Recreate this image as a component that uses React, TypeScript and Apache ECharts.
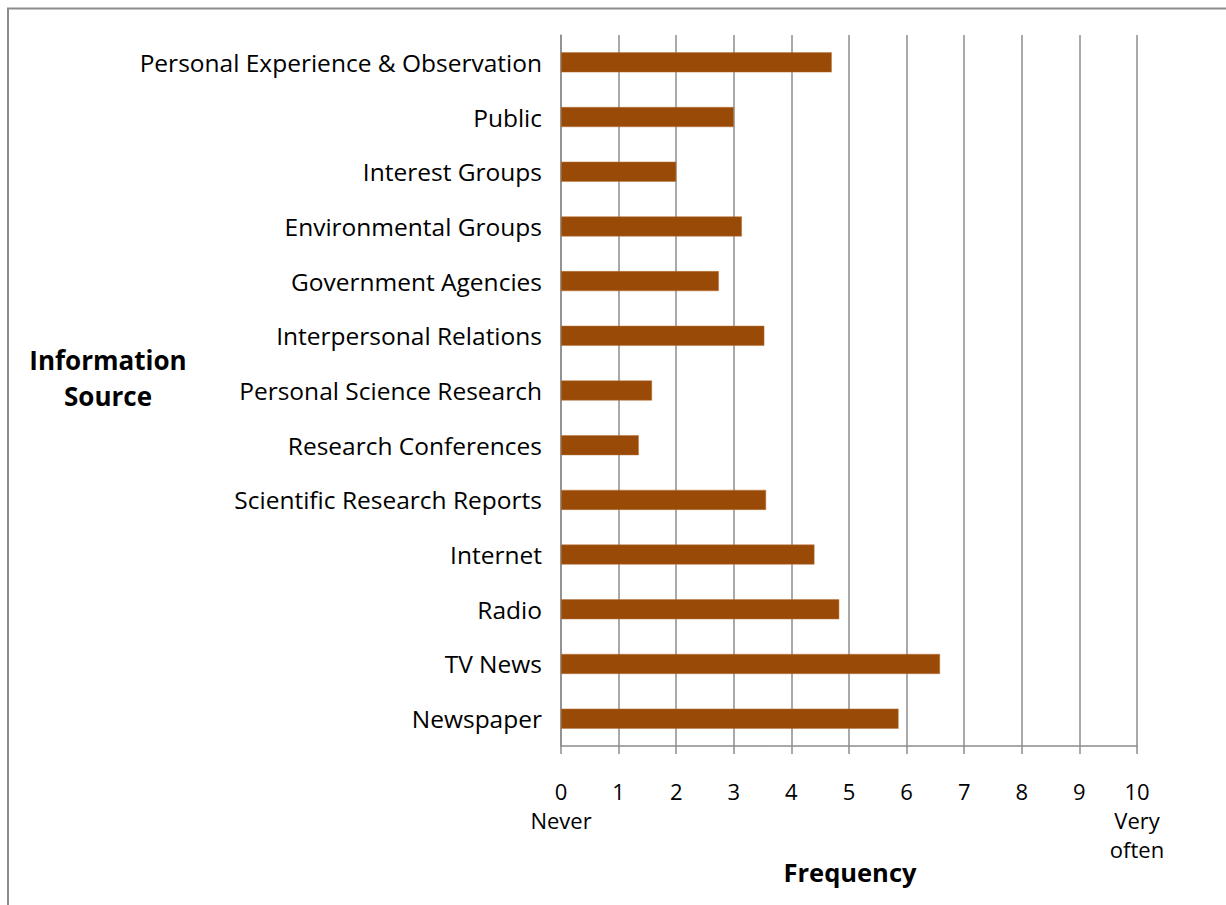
import React, { useEffect, useRef } from "react";
import * as echarts from "echarts";

const categories = [
  "Personal Experience & Observation",
  "Public",
  "Interest Groups",
  "Environmental Groups",
  "Government Agencies",
  "Interpersonal Relations",
  "Personal Science Research",
  "Research Conferences",
  "Scientific Research Reports",
  "Internet",
  "Radio",
  "TV News",
  "Newspaper",
];

const frequency = [4.7, 3.0, 2.0, 3.14, 2.74, 3.53, 1.58, 1.35, 3.56, 4.4, 4.83, 6.58, 5.86];

const tickLabels: Record<number, string> = {
  0: "0\nNever",
  10: "10\nVery\noften",
};

const FONT = "'Open Sans', 'Noto Sans', sans-serif";
const GRAY = "#8c8c8c";

export default function App() {
  const ref = useRef<HTMLDivElement>(null);

  useEffect(() => {
    if (!ref.current) return;
    const chart = echarts.init(ref.current, undefined, { renderer: "svg" });
    chart.setOption({
      animation: false,
      backgroundColor: "#ffffff",
      grid: { left: 561, right: 89, top: 35, bottom: 159 },
      xAxis: {
        type: "value",
        min: 0,
        max: 10,
        interval: 1,
        axisLine: { show: true, lineStyle: { color: GRAY, width: 1.5 } },
        axisTick: { show: true, length: 8, lineStyle: { color: GRAY, width: 1.5 } },
        splitLine: { show: true, lineStyle: { color: GRAY, width: 1.5 } },
        axisLabel: {
          margin: 30,
          color: "#000",
          fontFamily: FONT,
          fontSize: 22,
          lineHeight: 29,
          formatter: (v: number) => tickLabels[v] ?? String(v),
        },
      },
      yAxis: {
        type: "category",
        inverse: true,
        data: categories,
        axisLine: { show: true, lineStyle: { color: GRAY, width: 1.5 } },
        axisTick: { show: false },
        axisLabel: { margin: 19, color: "#000", fontFamily: FONT, fontSize: 24.5 },
      },
      series: [
        {
          type: "bar",
          data: frequency,
          barWidth: 20,
          itemStyle: { color: "#994a06", borderColor: "#b8743e", borderWidth: 0.5 },
        },
      ],
      graphic: [
        {
          type: "rect",
          shape: { x: 8, y: 8.5, width: 1400, height: 1200 },
          style: { fill: "none", stroke: GRAY, lineWidth: 2 },
          silent: true,
        },
        {
          type: "text",
          x: 108,
          y: 378,
          style: {
            text: "Information\nSource",
            fontFamily: FONT,
            fontWeight: "bold",
            fontSize: 26,
            lineHeight: 36,
            fill: "#000",
            align: "center",
            verticalAlign: "middle",
          },
        },
        {
          type: "text",
          x: 850,
          y: 872,
          style: {
            text: "Frequency",
            fontFamily: FONT,
            fontWeight: "bold",
            fontSize: 25.5,
            fill: "#000",
            align: "center",
            verticalAlign: "middle",
          },
        },
      ],
    });
    return () => chart.dispose();
  }, []);

  return (
    <div
      ref={ref}
      style={{ position: "fixed", left: 0, top: 0, width: 1226, height: 905 }}
    />
  );
}
